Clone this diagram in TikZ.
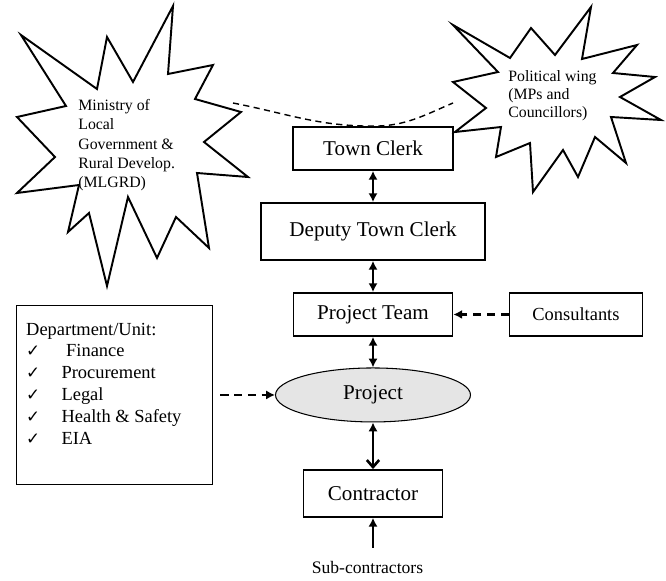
\documentclass[tikz,border=0pt]{standalone}
\usepackage{fontspec}
\setmainfont{Liberation Serif}
\newfontfamily\checkfont{DejaVu Sans}
\usetikzlibrary{positioning,shapes.geometric,arrows.meta}

\newcommand{\deptitem}[1]{\makebox[20.1pt][l]{\checkfont\fontsize{9.5}{9.5}\selectfont ✓}#1}

\begin{document}
\begin{tikzpicture}[x=0.02cm, y=-0.02cm, node distance=1.66cm,
    box/.style={draw, line width=1pt, minimum height=0.86cm, font=\fontsize{12}{14}\selectfont},
    starline/.style={line width=1.1pt, line join=miter},
    twoway/.style={{Latex[length=5pt,width=5.2pt]}-{Latex[length=5pt,width=5.2pt]}, line width=1.5pt},
    oneway/.style={-{Latex[length=5pt,width=5.2pt]}, line width=1.5pt},
    dasharrow/.style={-{Latex[length=5pt,width=5.2pt]}, line width=1.5pt, dash pattern=on 4.6pt off 3.2pt}]
  \useasboundingbox (0,0) rectangle (666,581);

  \node (tc) [box, minimum width=3.2cm] at (373,148.5) {Town Clerk};
  \node (dtc) [box, below of=tc, minimum width=4.48cm, minimum height=1.14cm] {Deputy Town Clerk};
  \node (pt) [box, below of=dtc, minimum width=3.18cm] {Project Team};
  \node (cons) [box, right of=pt, node distance=4.06cm, minimum width=2.66cm, font=\fontsize{10.5}{12}\selectfont] {Consultants};
  \node (proj) [ellipse, draw, line width=0.6pt, fill=black!10, below of=pt, node distance=1.61cm,
    minimum width=3.9cm, minimum height=1.08cm, font=\fontsize{12}{14}\selectfont] {Project};
  \node (contr) [box, below of=proj, node distance=1.97cm, minimum width=2.78cm, minimum height=0.94cm] {Contractor};
  \node (sub) [below of=contr, node distance=1.49cm, xshift=-0.11cm, font=\fontsize{10}{12}\selectfont] {Sub-contractors};
  \node (dept) [draw, line width=1pt, inner sep=0pt, left of=proj, node distance=5.17cm]
    {\parbox[c][3.58cm][t]{3.92cm}{\fontsize{10.5}{12.4}\selectfont\leftskip=5.5pt
      \rule{0pt}{16.9pt}Department/Unit:\\
      \deptitem{\ Finance}\\
      \deptitem{Procurement}\\
      \deptitem{Legal}\\
      \deptitem{Health \& Safety}\\
      \deptitem{EIA}}};

  \draw[starline] (173,6) -- (168,74) -- (213,65) -- (195,99) -- (241,112) -- (204,142)
    -- (248,177) -- (197,173) -- (209,248) -- (176,217) -- (157,258) -- (128,197)
    -- (107,286) -- (89,213) -- (68,232) -- (79,185) -- (17,193) -- (55,157)
    -- (17,117) -- (66,106) -- (21,35) -- (97,89) -- (107,37) -- (133,82) -- cycle;
  \node (mlgrd) [anchor=north west, inner sep=0pt, align=left, font=\fontsize{9}{11}\selectfont] at (78,99)
    {Ministry of\\Local\\Government \&\\Rural Develop.\\(MLGRD)};

  \draw[starline] (591,7) -- (582,59) -- (637,45) -- (613,73) -- (655,77) -- (620,97)
    -- (661,120) -- (611,117) -- (626,163) -- (595,137) -- (578,177) -- (563,150)
    -- (533,192) -- (530,143) -- (496,157) -- (501,127) -- (455,132) -- (486,108)
    -- (453,82) -- (498,72) -- (453,25) -- (510,58) -- (531,28) -- (555,55) -- cycle;
  \node (polwing) [anchor=north west, inner sep=0pt, align=left, font=\fontsize{9}{10.3}\selectfont] at (508,70)
    {Political wing\\(MPs and\\Councillors)};

  \coordinate (mlgrdtip) at (233,103);
  \coordinate (polend) at (453,103);
  \draw[line width=0.8pt, dash pattern=on 3.5pt off 2.5pt] (mlgrdtip) to[out=-11,in=180] (tc.north) to[out=0,in=-157] (polend);

  \draw[twoway] (tc) -- (dtc);
  \draw[twoway] (dtc) -- (pt);
  \draw[twoway] (pt) -- (proj);
  \draw[{Latex[length=5pt,width=5.2pt]}-{Straight Barb[length=4pt,width=7pt]}, line width=1.5pt] (proj) -- (contr);
  \draw[oneway, shorten <=4.5pt] (sub.north -| contr) -- (contr);
  \draw[dasharrow] (cons) -- (pt);
  \draw[dasharrow, shorten <=4pt] (dept.east |- proj) -- (proj);
\end{tikzpicture}
\end{document}
